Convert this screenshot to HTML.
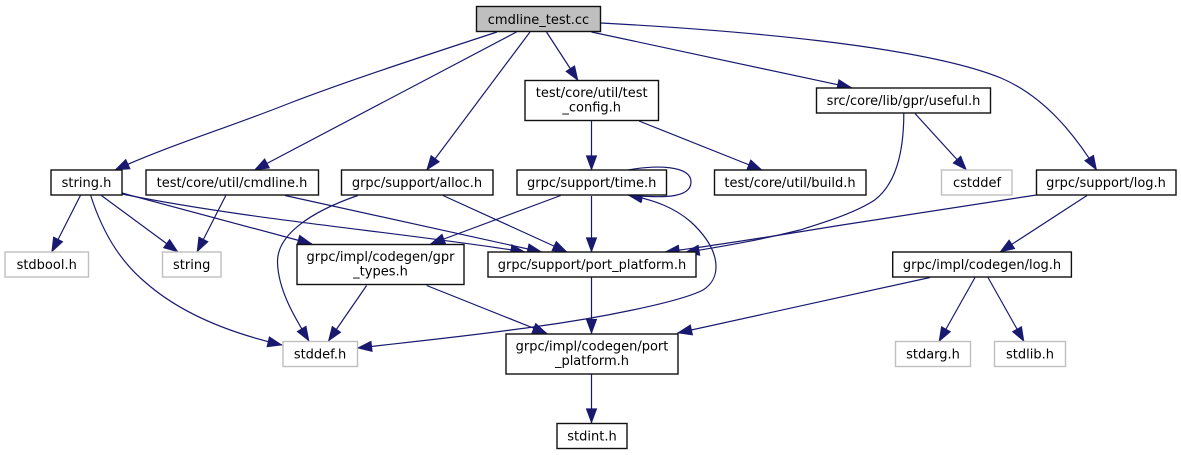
<!DOCTYPE html>
<html><head><meta charset="utf-8"><style>
html,body{margin:0;padding:0;background:#fff;width:1181px;height:455px;overflow:hidden}
svg{display:block}
text{font-family:"DejaVu Sans",sans-serif;font-size:13px;text-anchor:middle;fill:#000}
.n{fill:#fff;stroke:#111;stroke-width:1.4}
.g{fill:#fff;stroke:#bfbfbf;stroke-width:1.4}
.e{fill:none;stroke:#191970;stroke-width:1.2;marker-end:url(#a)}
.f{fill:none;stroke:#191970;stroke-width:1.2}
</style></head><body>
<svg width="1181" height="455" viewBox="0 0 1181 455" xmlns="http://www.w3.org/2000/svg">
<defs><marker id="a" markerUnits="userSpaceOnUse" markerWidth="16" markerHeight="13" refX="15" refY="6.5" orient="auto"><path d="M0.7,1.2 L15,6.5 L0.7,11.8 Z" fill="#191970" stroke="#191970" stroke-width="0.6"/></marker></defs>
<path class="e" d="M497,32 C430,54 350,80 290,103 C230,127 170,145 115,170"/>
<path class="e" d="M516.5,32 L254.5,170"/>
<path class="e" d="M530,32 L426.7,170"/>
<path class="e" d="M546.5,32 L578,80.5"/>
<path class="e" d="M591.5,32 L851.7,87.7"/>
<path class="e" d="M601,23 C730,30 920,45 1001,78 C1045,97 1075,135 1096.6,170"/>
<path class="e" d="M591.5,121 L591.5,170"/>
<path class="e" d="M639,121 L762,170"/>
<path class="e" d="M628,170 C655,165 691,165 691,182 C691,199 660,198 628,195"/>
<path class="e" d="M903.8,113.5 C903.8,150 897,183 874.7,200 C855,213 825,222 800,230 C760,240 725,246 685,252.5"/>
<path class="e" d="M915,113.5 L966.5,170"/>
<path class="e" d="M1036.5,195 L842,225 C780,235 720,245 665,252"/>
<path class="e" d="M1087,195.5 L1000,252"/>
<path class="e" d="M930,277.5 L677.6,333"/>
<path class="e" d="M975,277.5 L939,341.5"/>
<path class="e" d="M988,277.5 L1024,341.5"/>
<path class="e" d="M591.5,277.5 L591.5,333.5"/>
<path class="e" d="M591.5,374.5 L591.5,423"/>
<path class="e" d="M80.4,195.5 L51.7,252"/>
<path class="e" d="M101.4,195.5 L178,252"/>
<path class="e" d="M90.7,195.5 C105,240 125,265 145,282 C180,313 230,333 282,345"/>
<path class="e" d="M122,193 L312,244"/>
<path class="e" d="M122,194 C250,220 400,232 525,252"/>
<path class="e" d="M225.8,195.5 L197,252"/>
<path class="e" d="M285,195.5 L541.7,252"/>
<path class="e" d="M357.8,195.5 C310,212 277,235 277.5,262 C278,290 295,318 309,341"/>
<path class="e" d="M443,195.5 L567,252"/>
<path class="e" d="M560.7,195.5 L430.5,244"/>
<path class="e" d="M591.5,196 L591.5,252"/>
<path class="e" d="M366.6,285.5 L328.4,341"/>
<path class="e" d="M426.7,285.5 L547,333.5"/>
<path class="e" d="M716,267 C716,250 705,235 691,222 C675,208 655,200 628,195"/>
<path class="e" d="M716,267 C716,277 711,285 703,290 C680,302 600,318 533,327 C470,336 410,342 357.5,348"/>
<rect x="476.5" y="6.5" width="124" height="25" fill="#bfbfbf" stroke="#111" stroke-width="1.4"/><text x="538.5" y="24">cmdline_test.cc</text>
<rect class="n" x="525" y="80.5" width="133.5" height="40"/><text x="591.7" y="97">test/core/util/test</text><text x="591.7" y="111.5">_config.h</text>
<rect class="n" x="816.5" y="88" width="174" height="25"/><text x="903.5" y="105">src/core/lib/gpr/useful.h</text>
<rect class="n" x="51" y="170" width="71" height="25"/><text x="86.5" y="187">string.h</text>
<rect class="n" x="146" y="170" width="172.5" height="25"/><text x="232" y="187">test/core/util/cmdline.h</text>
<rect class="n" x="341.5" y="170" width="151.5" height="25"/><text x="417" y="187">grpc/support/alloc.h</text>
<rect class="n" x="517" y="170" width="149.5" height="25"/><text x="591.7" y="187">grpc/support/time.h</text>
<rect class="n" x="714.5" y="170" width="151.5" height="25"/><text x="790" y="187">test/core/util/build.h</text>
<rect class="g" x="941.5" y="170" width="70.5" height="25"/><text x="977" y="187">cstddef</text>
<rect class="n" x="1036.5" y="170" width="139.5" height="25"/><text x="1106" y="187">grpc/support/log.h</text>
<rect class="g" x="5" y="252" width="83.5" height="25"/><text x="46.7" y="269">stdbool.h</text>
<rect class="g" x="162.5" y="252" width="58.5" height="25"/><text x="191.7" y="269">string</text>
<rect class="n" x="297" y="244.5" width="167" height="40"/><text x="380.5" y="261">grpc/impl/codegen/gpr</text><text x="380.5" y="275.5">_types.h</text>
<rect class="n" x="488" y="252" width="208" height="25"/><text x="592" y="269">grpc/support/port_platform.h</text>
<rect class="n" x="892.7" y="252" width="178.7" height="25"/><text x="982" y="269">grpc/impl/codegen/log.h</text>
<rect class="g" x="283" y="341.5" width="74.5" height="25"/><text x="320" y="358.5">stddef.h</text>
<rect class="n" x="506" y="334" width="172" height="40"/><text x="592" y="350.5">grpc/impl/codegen/port</text><text x="592" y="365">_platform.h</text>
<rect class="g" x="895.5" y="341.5" width="75" height="25"/><text x="933" y="358.5">stdarg.h</text>
<rect class="g" x="994.5" y="341.5" width="71" height="25"/><text x="1030" y="358.5">stdlib.h</text>
<rect class="n" x="557" y="423.5" width="70" height="25"/><text x="592" y="440.5">stdint.h</text>
</svg>
</body></html>
